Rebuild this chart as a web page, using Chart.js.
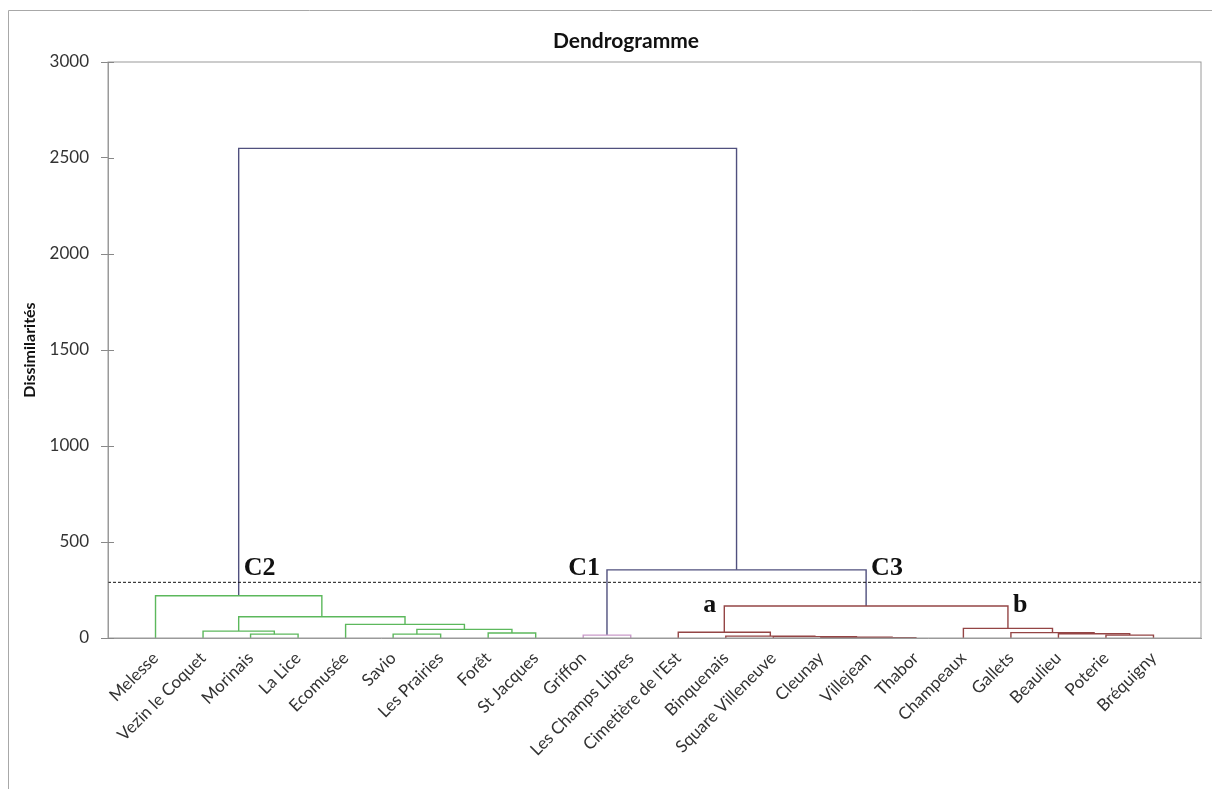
<!DOCTYPE html>
<html>
<head>
<meta charset="utf-8">
<script src="https://cdn.jsdelivr.net/npm/chart.js@4.4.1/dist/chart.umd.min.js"></script>
<style>
  body { margin: 0; background: #fff; }
  #wrap { position: relative; width: 1212px; height: 789px; }
</style>
</head>
<body>
<div id="wrap"><canvas id="dendro" width="1212" height="789"></canvas></div>
<script>
// --- Data ---
const leaves = [
    'Melesse', 'Vezin le Coquet', 'Morinais', 'La Lice', 'Ecomusée', 'Savio',
    'Les Prairies', 'Forêt', 'St Jacques', 'Griffon', 'Les Champs Libres',
    "Cimetière de l'Est", 'Binquenais', 'Square Villeneuve', 'Cleunay', 'Villejean',
    'Thabor', 'Champeaux', 'Gallets', 'Beaulieu', 'Poterie', 'Bréquigny'
];

// merge k joins mergeA[k] and mergeB[k] at mergeHeight[k]
// ids 0..21 are leaves, id 22 + k is the node made by merge k
const mergeA = [15, 14, 13, 12, 2, 5, 7, 9, 20, 19, 18, 11, 1, 27, 17, 4, 34, 33, 0, 29, 40];
const mergeB = [16, 22, 23, 24, 3, 6, 8, 10, 21, 30, 31, 25, 26, 28, 32, 35, 37, 36, 38, 39, 41];
const mergeHeight = [2, 4, 7, 10, 20, 20, 26, 15, 15, 22, 28, 30, 36, 45, 50, 71, 111, 167, 220, 355, 2550];

const cutLevel = 290;

const clusterNames = ['C2', 'C1', 'C3'];
const clusterNodes = [40, 29, 39];
const clusterColors = ['#5cb85c', '#c99ac9', '#944545'];
const topColor = '#50507e';

const groupNames = ['a', 'b'];
const groupNodes = [33, 36];

const yTicks = [0, 500, 1000, 1500, 2000, 2500, 3000];
const chartTitle = 'Dendrogramme';

// --- Build tree ---
const nLeaf = leaves.length;
const nodeX = leaves.map((_, i) => i + 1);
const nodeH = leaves.map(() => 0);
mergeHeight.forEach((h, k) => {
    nodeX.push((nodeX[mergeA[k]] + nodeX[mergeB[k]]) / 2);
    nodeH.push(h);
});
const parentOf = {};
mergeA.forEach((a, k) => { parentOf[a] = nLeaf + k; parentOf[mergeB[k]] = nLeaf + k; });

const nodeColor = new Array(nodeX.length).fill(topColor);
function paint(id, c) {
    nodeColor[id] = c;
    if (id >= nLeaf) {
        paint(mergeA[id - nLeaf], c);
        paint(mergeB[id - nLeaf], c);
    }
}
clusterNodes.forEach((id, i) => paint(id, clusterColors[i]));

const linkSets = mergeHeight.map((h, k) => {
    const a = mergeA[k], b = mergeB[k];
    return {
        data: [
            { x: nodeX[a], y: nodeH[a] },
            { x: nodeX[a], y: h },
            { x: nodeX[b], y: h },
            { x: nodeX[b], y: nodeH[b] }
        ],
        borderColor: nodeColor[nLeaf + k],
        borderWidth: 1.4,
        showLine: true,
        pointRadius: 0,
        tension: 0
    };
});

const cutSet = {
    data: [{ x: 0, y: cutLevel }, { x: nLeaf + 1, y: cutLevel }],
    borderColor: '#111',
    borderWidth: 1,
    borderDash: [3, 2],
    showLine: true,
    pointRadius: 0
};

const font = 'Lato';

// --- Plugins ---
const framePlugin = {
    id: 'frame',
    afterDraw(chart) {
        const { ctx, chartArea: a, scales: { y } } = chart;
        ctx.save();
        ctx.strokeStyle = '#9a9a9a';
        ctx.lineWidth = 1;
        ctx.strokeRect(a.left, a.top, a.right - a.left, a.bottom - a.top);
        // inner half of the y ticks
        ctx.strokeStyle = '#888';
        y.ticks.forEach(t => {
            const py = Math.round(y.getPixelForValue(t.value)) + 0.5;
            ctx.beginPath();
            ctx.moveTo(a.left, py);
            ctx.lineTo(a.left + 6, py);
            ctx.stroke();
        });
        // outer border of the figure
        ctx.strokeStyle = '#a8a8a8';
        ctx.beginPath();
        ctx.moveTo(8.5, chart.height);
        ctx.lineTo(8.5, 10.5);
        ctx.lineTo(chart.width, 10.5);
        ctx.stroke();
        // title
        ctx.fillStyle = '#111';
        ctx.font = 'bold 21px ' + font;
        ctx.textAlign = 'center';
        ctx.textBaseline = 'middle';
        ctx.fillText(chartTitle, 626, 41);
        ctx.restore();
    }
};

const textPlugin = {
    id: 'clusterText',
    afterDatasetsDraw(chart) {
        const { ctx, scales: { x, y } } = chart;
        const cutY = y.getPixelForValue(cutLevel);
        ctx.save();
        ctx.fillStyle = '#111';
        ctx.font = 'bold 26px "Liberation Serif"';
        ctx.textBaseline = 'alphabetic';
        clusterNames.forEach((name, i) => {
            const id = clusterNodes[i];
            const px = x.getPixelForValue(nodeX[id]);
            let left = false;
            if (nodeH[parentOf[id]] < 1000) left = mergeA[parentOf[id] - nLeaf] === id;
            ctx.textAlign = left ? 'right' : 'left';
            ctx.fillText(name, px + (left ? -7 : 5), cutY - 7);
        });
        groupNames.forEach((name, i) => {
            const id = groupNodes[i];
            const px = x.getPixelForValue(nodeX[id]);
            const py = y.getPixelForValue(nodeH[parentOf[id]]);
            const left = mergeA[parentOf[id] - nLeaf] === id;
            ctx.textAlign = left ? 'right' : 'left';
            ctx.fillText(name, px + (left ? -8 : 5), py + 6);
        });
        ctx.restore();
    }
};

// --- Chart ---
new Chart(document.getElementById('dendro').getContext('2d'), {
    type: 'scatter',
    data: { datasets: [cutSet, ...linkSets] },
    options: {
        responsive: false,
        animation: false,
        layout: { padding: { left: 0, right: 11, top: 62, bottom: 0 } },
        plugins: {
            legend: { display: false },
            tooltip: { enabled: false },
            title: { display: false }
        },
        scales: {
            x: {
                type: 'linear',
                min: 0,
                max: nLeaf + 1,
                afterFit: s => { s.height = 151; },
                afterBuildTicks: s => { s.ticks = leaves.map((_, i) => ({ value: i + 1 })); },
                ticks: {
                    autoSkip: false,
                    minRotation: 45,
                    maxRotation: 45,
                    padding: 2,
                    color: '#333',
                    font: { family: font, size: 17 },
                    callback: v => leaves[v - 1] || ''
                },
                grid: { display: false },
                border: { display: true, color: '#9a9a9a' }
            },
            y: {
                min: 0,
                max: 3000,
                afterFit: s => { s.width = 108; },
                afterBuildTicks: s => { s.ticks = yTicks.map(v => ({ value: v })); },
                ticks: {
                    color: '#333',
                    padding: 12,
                    font: { family: font, size: 17 },
                    callback: v => String(v)
                },
                grid: { drawOnChartArea: false, drawTicks: true, tickLength: 7, color: '#888' },
                border: { display: true, color: '#9a9a9a' },
                title: {
                    display: true,
                    text: 'Dissimilarités',
                    color: '#111',
                    font: { family: font, size: 16, weight: 'bold' },
                    padding: { top: 20, bottom: 0 }
                }
            }
        }
    },
    plugins: [framePlugin, textPlugin]
});
</script>
</body>
</html>
